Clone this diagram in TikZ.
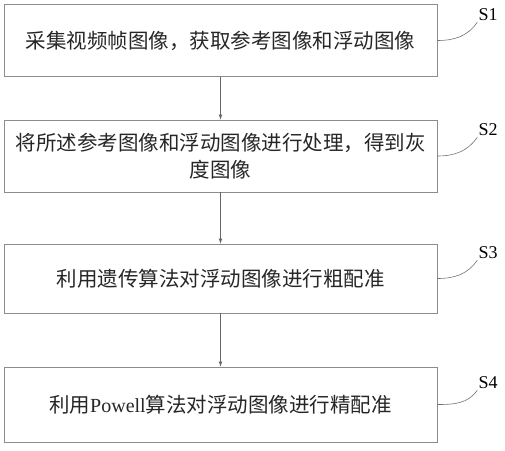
\documentclass[tikz,border=0pt]{standalone}
\usepackage{fontspec}
\setmainfont{Liberation Serif}
\newfontfamily\cjk{Noto Sans CJK SC}
\begin{document}
\begin{tikzpicture}[x=1pt,y=1pt,
    stepbox/.style={draw=black!45, line width=0.8pt, minimum width=433pt, minimum height=72pt,
        inner sep=0pt, align=center, text=black!85, font=\cjk\fontsize{20.5}{27}\selectfont},
    steplabel/.style={inner sep=1pt, text=black, font=\fontsize{18}{18}\selectfont},
    leader/.style={draw=black!55, line width=0.6pt},
    flow/.style={draw=black!60, line width=0.7pt, -latex}]
    \useasboundingbox (0,0) rectangle (505,450);

    % 流程框
    \node[stepbox] (b1) at (220.5,409.5) {采集视频帧图像，获取参考图像和浮动图像};
    \node[stepbox] (b2) at (220.5,294) {将所述参考图像和浮动图像进行处理，得到灰\\度图像};
    \node[stepbox, minimum height=69pt] (b3) at (220.5,171.5) {利用遗传算法对浮动图像进行粗配准};
    \node[stepbox, minimum height=75pt] (b4) at (220.5,45.5) {利用{\rmfamily\fontsize{20}{27}\selectfont Powell}算法对浮动图像进行精配准};

    % 步骤编号
    \node[steplabel] (s1) at (488,435) {S1};
    \node[steplabel] (s2) at (488,320) {S2};
    \node[steplabel] (s3) at (488,197) {S3};
    \node[steplabel] (s4) at (488,67) {S4};

    % 引线
    \draw[leader] (b1.east) to[out=0,in=235] (s1.south west);
    \draw[leader] (b2.east) to[out=0,in=235] (s2.south west);
    \draw[leader] (b3.east) to[out=0,in=235] (s3.south west);
    \draw[leader] (b4.east) to[out=0,in=235] (s4.south west);

    % 箭头
    \draw[flow] (b1) -- (b2);
    \draw[flow] (b2) -- (b3);
    \draw[flow] (b3) -- (b4);
\end{tikzpicture}
\end{document}
